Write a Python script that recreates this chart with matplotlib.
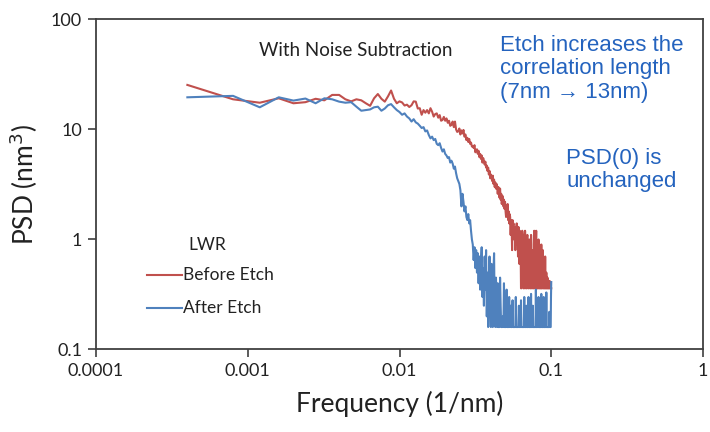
import numpy as np
import matplotlib
matplotlib.use("Agg")
import matplotlib.pyplot as plt
from matplotlib.ticker import FixedLocator, FuncFormatter, NullLocator

# frequency grid of the PSD (1/nm), step 0.0004 up to 0.1
freq_step = 0.0004
n_points = 250

# LWR PSD before etch (nm^3)
psd_before = [
    25.4, 18.8, 17.5, 19.2, 17.3, 17.7, 19.0, 18.4, 20.6, 20.6,
    18.8, 18.0, 18.8, 18.4, 17.3, 16.4, 19.2, 21.0, 19.0, 17.9,
    20.0, 22.6, 19.0, 17.3, 18.0, 17.6, 16.5, 16.8, 16.0, 16.6,
    18.0, 17.9, 15.5, 15.6, 13.6, 15.0, 14.2, 15.0, 14.0, 15.6,
    14.5, 13.1, 13.8, 14.0, 12.8, 13.5, 12.0, 12.2, 13.0, 12.0,
    12.6, 11.5, 12.0, 10.8, 11.0, 11.8, 10.5, 11.8, 10.0, 9.5,
    9.6, 10.2, 9.0, 9.8, 9.2, 9.9, 8.6, 9.0, 8.0, 8.4,
    7.7, 8.2, 7.4, 7.6, 7.0, 7.0, 6.8, 7.2, 6.2, 6.5,
    6.6, 6.0, 6.4, 5.6, 6.0, 5.4, 5.8, 5.0, 5.5, 5.2,
    4.8, 5.1, 4.5, 4.7, 4.2, 4.5, 3.9, 4.2, 3.6, 3.9,
    3.7, 3.4, 3.8, 3.2, 3.5, 3.0, 3.3, 2.9, 3.2, 3.0,
    2.6, 3.0, 2.7, 2.4, 2.9, 2.3, 2.6, 2.1, 2.5, 2.4,
    2.0, 2.3, 1.9, 2.2, 1.8, 1.6, 2.0, 1.7, 2.1, 1.5,
    1.8, 1.4, 1.7, 1.6, 1.1, 1.5, 1.4, 0.8, 1.5, 1.3,
    1.4, 1.0, 1.3, 1.2, 0.8, 1.3, 1.1, 1.4, 0.9, 1.2,
    0.7, 1.3, 1.0, 0.6, 1.2, 1.1, 0.9, 0.36, 0.36, 0.5,
    1.2, 1.1, 0.9, 0.36, 0.36, 0.36, 0.9, 1.2, 1.0, 0.36,
    0.36, 0.36, 1.0, 1.1, 0.8, 0.36, 0.36, 0.6, 1.0, 0.9,
    0.36, 0.36, 0.36, 1.1, 0.9, 0.36, 0.36, 0.8, 0.7, 0.36,
    0.36, 0.36, 1.2, 1.0, 0.36, 0.36, 0.36, 0.9, 1.2, 0.36,
    0.36, 0.36, 0.8, 0.36, 0.36, 1.0, 0.9, 0.36, 0.36, 0.36,
    0.7, 0.36, 0.36, 0.36, 0.9, 0.36, 0.36, 0.36, 0.6, 0.8,
    0.36, 0.36, 0.36, 0.65, 0.36, 0.36, 0.36, 0.7, 0.36, 0.36,
    0.36, 0.5, 0.36, 0.36, 0.36, 0.45, 0.36, 0.36, 0.36, 0.4,
    0.36, 0.36, 0.36, 0.42, 0.36, 0.36, 0.36, 0.36, 0.36, 0.36,
]

# LWR PSD after etch (nm^3)
psd_after = [
    19.6, 20.2, 15.9, 19.6, 18.3, 19.1, 17.3, 19.2, 18.8, 17.9,
    17.5, 17.7, 16.1, 14.8, 15.0, 15.2, 15.9, 16.1, 14.8, 15.5,
    16.6, 17.0, 15.9, 15.0, 14.4, 13.6, 14.0, 13.1, 12.6, 11.8,
    12.4, 11.6, 11.3, 10.8, 10.3, 10.5, 9.6, 9.8, 8.9, 8.3,
    8.6, 8.0, 8.2, 7.4, 7.2, 7.5, 6.8, 6.3, 6.6, 6.0,
    5.8, 5.5, 5.6, 5.0, 5.2, 4.9, 4.4, 4.6, 4.0, 3.6,
    3.4, 3.2, 2.8, 2.0, 2.6, 2.2, 1.8, 2.0, 1.6, 1.5,
    1.7, 1.4, 1.5, 1.2, 1.0, 0.9, 0.65, 0.85, 0.55, 0.8,
    0.5, 0.75, 0.4, 0.7, 0.35, 0.6, 0.85, 0.3, 0.55, 0.25,
    0.7, 0.35, 0.8, 0.2, 0.5, 0.16, 0.45, 0.7, 0.25, 0.16,
    0.6, 0.3, 0.16, 0.5, 0.75, 0.2, 0.16, 0.45, 0.3, 0.16,
    0.4, 0.16, 0.16, 0.16, 0.45, 0.25, 0.16, 0.16, 0.16, 0.2,
    0.16, 0.4, 0.16, 0.16, 0.16, 0.16, 0.35, 0.16, 0.16, 0.16,
    0.16, 0.3, 0.16, 0.16, 0.25, 0.16, 0.16, 0.16, 0.28, 0.16,
    0.16, 0.16, 0.16, 0.16, 0.16, 0.3, 0.16, 0.16, 0.16, 0.16,
    0.16, 0.16, 0.25, 0.16, 0.16, 0.16, 0.16, 0.28, 0.16, 0.16,
    0.16, 0.16, 0.16, 0.16, 0.16, 0.3, 0.16, 0.16, 0.16, 0.16,
    0.25, 0.16, 0.16, 0.16, 0.16, 0.16, 0.3, 0.16, 0.16, 0.16,
    0.16, 0.16, 0.16, 0.32, 0.16, 0.16, 0.16, 0.16, 0.25, 0.16,
    0.16, 0.16, 0.16, 0.16, 0.16, 0.16, 0.16, 0.35, 0.16, 0.16,
    0.16, 0.22, 0.16, 0.16, 0.16, 0.3, 0.16, 0.16, 0.16, 0.16,
    0.16, 0.16, 0.16, 0.16, 0.32, 0.16, 0.16, 0.16, 0.16, 0.16,
    0.16, 0.16, 0.3, 0.16, 0.16, 0.16, 0.16, 0.25, 0.16, 0.16,
    0.16, 0.33, 0.16, 0.16, 0.16, 0.16, 0.16, 0.16, 0.16, 0.16,
    0.16, 0.16, 0.22, 0.16, 0.16, 0.16, 0.16, 0.16, 0.3, 0.41,
]

x_ticks = [0.0001, 0.001, 0.01, 0.1, 1]
y_ticks = [0.1, 1, 10, 100]

freq = freq_step * np.arange(1, n_points + 1)

red = "#C0504D"
blue = "#4F81BD"
note_blue = "#2463BE"
axis_col = "#404040"
calibri = ["Lato", "DejaVu Sans"]
arial = ["Liberation Sans", "DejaVu Sans"]

fig = plt.figure(figsize=(7.10, 4.32), dpi=100)
ax = fig.add_axes([96 / 710, 0.191, 607 / 710, 0.764])

ax.plot(freq, psd_before, color=red, lw=1.5)
ax.plot(freq, psd_after, color=blue, lw=1.5)

ax.set_xscale("log")
ax.set_yscale("log")
ax.set_xlim(1e-4, 1)
ax.set_ylim(0.1, 100)
ax.xaxis.set_major_locator(FixedLocator(x_ticks))
ax.yaxis.set_major_locator(FixedLocator(y_ticks))
ax.xaxis.set_minor_locator(NullLocator())
ax.yaxis.set_minor_locator(NullLocator())
fmt = FuncFormatter(lambda v, p: "%g" % v)
ax.xaxis.set_major_formatter(fmt)
ax.yaxis.set_major_formatter(fmt)

for s in ax.spines.values():
    s.set_color(axis_col)
    s.set_linewidth(1.3)
ax.tick_params(direction="out", length=6, width=1.2, color=axis_col,
               labelsize=13, labelcolor="#222222", pad=4)
for lab in ax.get_xticklabels() + ax.get_yticklabels():
    lab.set_family(calibri)

ax.set_xlabel("Frequency (1/nm)", fontsize=19, family=calibri, color="#222222", labelpad=8)
ax.set_ylabel("PSD (nm$^3$)", fontsize=19, family=calibri, color="#222222", labelpad=8)

# annotations
fig.text(356 / 710, 1 - 50 / 432, "With Noise Subtraction", fontsize=13.5, family=calibri,
         color="#222222", ha="center", va="center")
fig.text(500 / 710, 1 - 35 / 432, "Etch increases the\ncorrelation length\n(7nm \u2192 13nm)",
         fontsize=16, family=arial, color=note_blue, ha="left", va="top", linespacing=1.15)
fig.text(566 / 710, 1 - 148 / 432, "PSD(0) is\nunchanged",
         fontsize=16, family=arial, color=note_blue, ha="left", va="top", linespacing=1.15)

# hand-made legend
fig.text(188 / 710, 1 - 245 / 432, "LWR", fontsize=12.5, family=calibri, color="#222222",
         ha="left", va="center")
for yy, col, lab in [(275, red, "Before Etch"), (308, blue, "After Etch")]:
    fig.add_artist(plt.Line2D([147 / 710, 182 / 710], [1 - yy / 432, 1 - yy / 432],
                              color=col, lw=1.5))
    fig.text(183 / 710, 1 - yy / 432, lab, fontsize=12.5, family=calibri, color="#222222",
             ha="left", va="center")

fig.savefig("out.png", dpi=100)
